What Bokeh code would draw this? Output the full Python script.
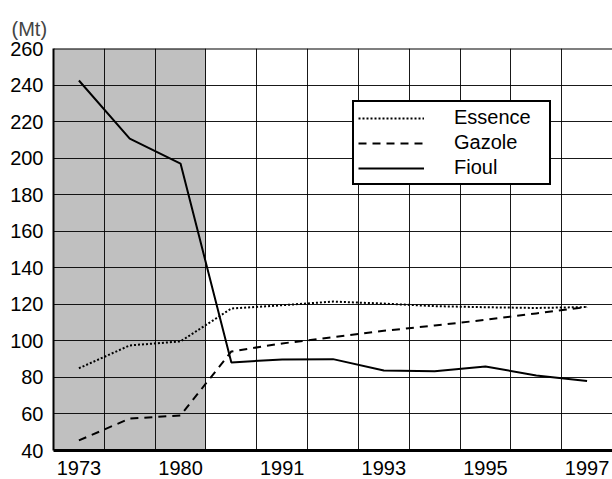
from bokeh.plotting import figure
from bokeh.models import Range1d, FixedTicker, BoxAnnotation, Span, Legend, LegendItem
from bokeh.embed import file_html
from bokeh.resources import INLINE

# ---- data ----
positions = list(range(11))  # 11 yearly steps along the x axis
tick_positions = [0, 2, 4, 6, 8, 10]
tick_labels = ["1973", "1980", "1991", "1993", "1995", "1997"]
essence = [85, 97.5, 99.7, 117.7, 119.5, 121.5, 120.4, 119, 118.4, 118, 118.5]
gazole = [45.5, 57.5, 59.2, 94.2, 98.6, 102, 105.5, 108.4, 111.5, 115, 118.5]
fioul = [242.5, 210.7, 197, 88.2, 89.8, 90, 83.8, 83.4, 86, 81, 78.1]
shaded_start, shaded_end = 0, 2  # shaded period (first three steps)
y_ticks = list(range(40, 261, 20))
unit_label = "(Mt)"

FONT = "Liberation Sans"
FS = "20px"

p = figure(width=612, height=479, output_backend="svg", toolbar_location=None,
           x_range=Range1d(-0.5, 10.5), y_range=Range1d(40, 260),
           min_border_left=53, min_border_right=0, min_border_top=48, min_border_bottom=29,
           title=unit_label)
p.outline_line_color = None
p.background_fill_color = "white"
p.border_fill_color = "white"

p.title.text_font = FONT
p.title.text_font_size = FS
p.title.text_font_style = "normal"
p.title.align = "left"
p.title.offset = -42
p.title.standoff = 17

# axes
for ax in (p.xaxis[0], p.yaxis[0]):
    ax.major_tick_line_color = None
    ax.minor_tick_line_color = None
    ax.major_tick_out = 0
    ax.major_tick_in = 0
    ax.minor_tick_out = 0
    ax.minor_tick_in = 0
    ax.axis_line_color = "black"
    ax.axis_line_width = 2
    ax.major_label_text_font = FONT
    ax.major_label_text_font_size = FS
    ax.major_label_text_color = "black"

p.xaxis.ticker = FixedTicker(ticks=tick_positions)
p.xaxis.major_label_overrides = {pos: lab for pos, lab in zip(tick_positions, tick_labels)}
p.xaxis.major_label_standoff = 10
p.xaxis.axis_line_width = 3
p.yaxis.ticker = FixedTicker(ticks=y_ticks)
p.yaxis.major_label_standoff = 10

# grids
p.xgrid.ticker = FixedTicker(ticks=[i + 0.5 for i in positions[:-1]])
p.ygrid.ticker = FixedTicker(ticks=y_ticks[1:-1])
for g in (p.xgrid[0], p.ygrid[0]):
    g.grid_line_color = "black"
    g.grid_line_width = 1
    g.grid_line_alpha = 0.9

# shaded period
p.add_layout(BoxAnnotation(left=shaded_start - 0.5, right=shaded_end + 0.5,
                           fill_color="#c0c0c0", fill_alpha=1, line_color=None, level="image"))
# top border
p.add_layout(Span(location=y_ticks[-1], dimension="width", line_color="black", line_width=2))

r_ess = p.line(positions, essence, line_color="black", line_width=2, line_dash="2 2")
r_gaz = p.line(positions, gazole, line_color="black", line_width=2, line_dash="8 6")
r_fio = p.line(positions, fioul, line_color="black", line_width=2)

legend = Legend(items=[LegendItem(label="Essence", renderers=[r_ess]),
                       LegendItem(label="Gazole", renderers=[r_gaz]),
                       LegendItem(label="Fioul", renderers=[r_fio])],
                location=(299, 265),
                border_line_color="black", border_line_width=2, border_line_alpha=1,
                background_fill_color="white", background_fill_alpha=1,
                glyph_width=66, glyph_height=20, label_standoff=30, label_width=91,
                label_height=20, padding=4, spacing=2, margin=0,
                label_text_font=FONT, label_text_font_size=FS, label_text_color="black")
p.add_layout(legend)

open("out.html", "w").write(file_html(p, INLINE))
